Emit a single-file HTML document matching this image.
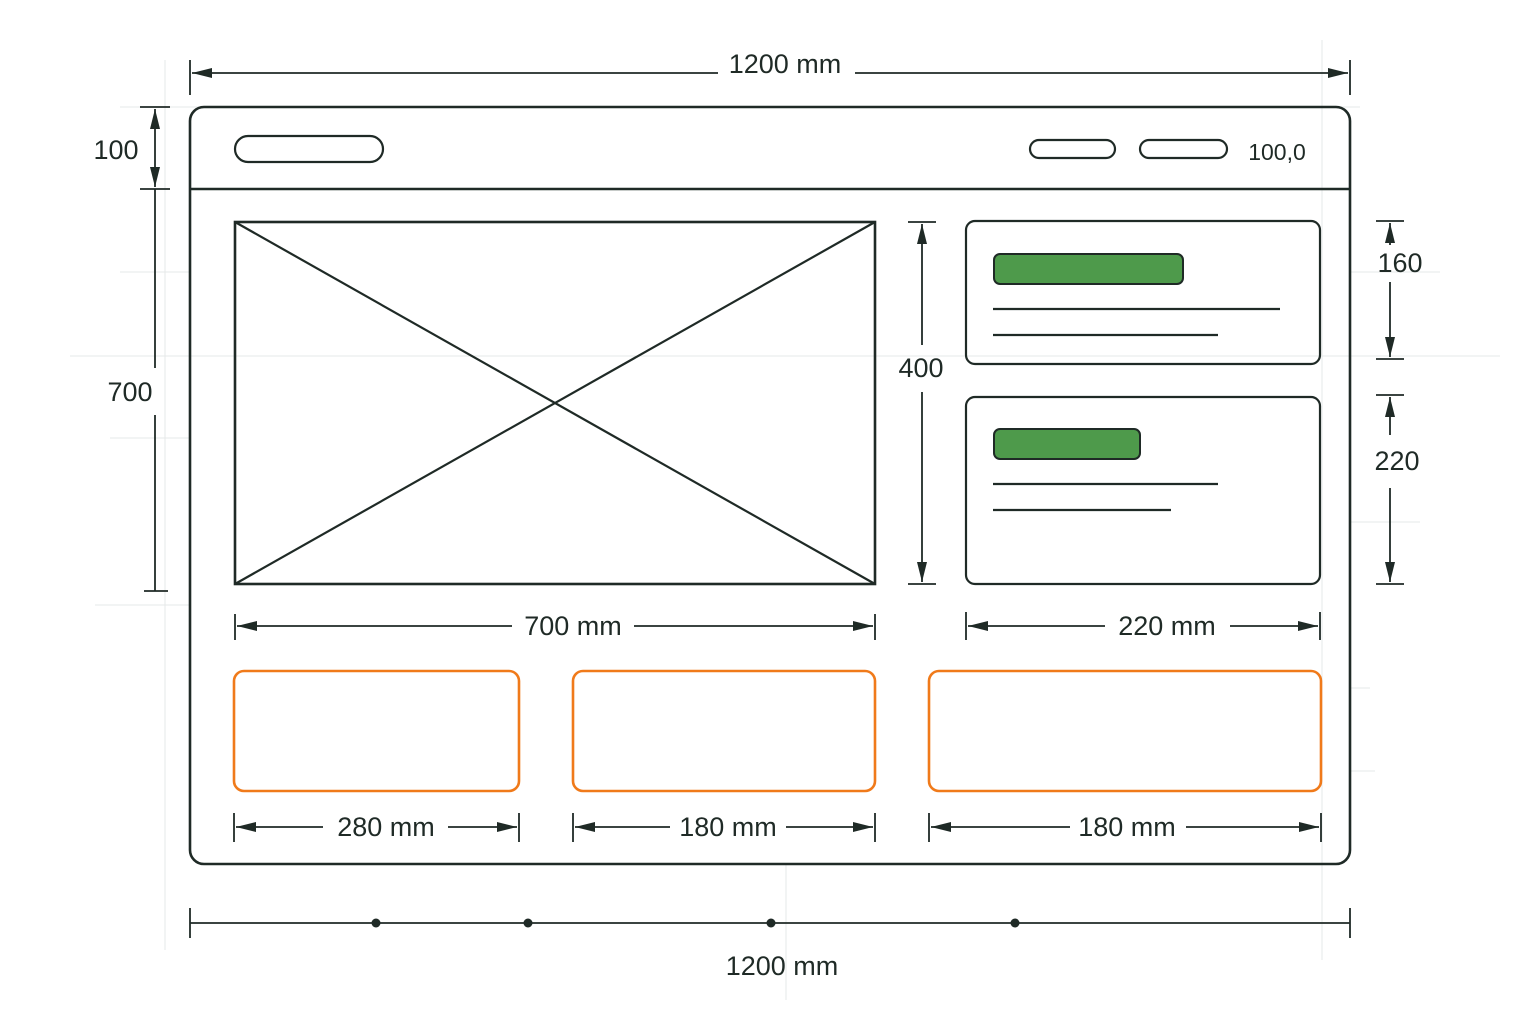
<!DOCTYPE html>
<html><head><meta charset="utf-8"><style>
html,body{margin:0;padding:0;background:#fff;}
svg{display:block;}
text{font-family:"Liberation Sans",sans-serif;fill:#1f2a26;}
</style></head><body>
<svg width="1536" height="1024" viewBox="0 0 1536 1024" xmlns="http://www.w3.org/2000/svg">
<defs>
<marker id="a" viewBox="0 0 20 10" refX="20" refY="5" markerWidth="20" markerHeight="10" markerUnits="userSpaceOnUse" orient="auto-start-reverse">
<path d="M0,0 L20,5 L0,10 Z" fill="#1f2a26"/></marker>
</defs>
<g stroke="#e6e9e8" stroke-width="1">
<line x1="165" y1="60" x2="165" y2="950"/><line x1="1322" y1="40" x2="1322" y2="960"/>
<line x1="120" y1="107" x2="1360" y2="107"/><line x1="70" y1="356" x2="1500" y2="356"/>
<line x1="120" y1="272" x2="190" y2="272"/><line x1="110" y1="438" x2="190" y2="438"/>
<line x1="1350" y1="272" x2="1440" y2="272"/><line x1="1350" y1="522" x2="1420" y2="522"/>
<line x1="786" y1="864" x2="786" y2="1000"/><line x1="1350" y1="688" x2="1370" y2="688"/>
<line x1="1350" y1="771" x2="1375" y2="771"/><line x1="95" y1="605" x2="190" y2="605"/>
</g>
<g fill="none" stroke="#1f2a26" stroke-width="2.2">
<rect x="190" y="107" width="1160" height="757" rx="14" stroke-width="2.6"/>
<line x1="190" y1="189" x2="1350" y2="189" stroke-width="2.6"/>
<rect x="235" y="136" width="148" height="26" rx="13"/>
<rect x="1030" y="140" width="85" height="18" rx="9"/>
<rect x="1140" y="140" width="87" height="18" rx="9"/>
<rect x="235" y="222" width="640" height="362" stroke-width="2.6"/>
<line x1="235" y1="222" x2="875" y2="584"/><line x1="875" y1="222" x2="235" y2="584"/>
<rect x="966" y="221" width="354" height="143" rx="9"/>
<rect x="966" y="397" width="354" height="187" rx="9"/>
<line x1="993" y1="309" x2="1280" y2="309"/><line x1="993" y1="335" x2="1218" y2="335"/>
<line x1="993" y1="484" x2="1218" y2="484"/><line x1="993" y1="510" x2="1171" y2="510"/>
</g>
<rect x="994" y="254" width="189" height="30" rx="6" fill="#4e9a4b" stroke="#1f2a26" stroke-width="2"/>
<rect x="994" y="429" width="146" height="30" rx="6" fill="#4e9a4b" stroke="#1f2a26" stroke-width="2"/>
<g fill="none" stroke="#f07a1a" stroke-width="2.6">
<rect x="234" y="671" width="285" height="120" rx="10"/>
<rect x="573" y="671" width="302" height="120" rx="10"/>
<rect x="929" y="671" width="392" height="120" rx="10"/>
</g>
<g stroke="#1f2a26" stroke-width="1.8" fill="none">
<!-- top -->
<line x1="190" y1="60" x2="190" y2="95"/><line x1="1350" y1="60" x2="1350" y2="95"/>
<line x1="192" y1="73" x2="718" y2="73" marker-start="url(#a)"/><line x1="855" y1="73" x2="1348" y2="73" marker-end="url(#a)"/>
<!-- left 100 -->
<line x1="140" y1="107" x2="170" y2="107"/><line x1="140" y1="189" x2="170" y2="189"/>
<line x1="155" y1="109" x2="155" y2="187" marker-start="url(#a)" marker-end="url(#a)"/>
<!-- 700 -->
<line x1="144" y1="591" x2="168" y2="591"/>
<line x1="155" y1="189" x2="155" y2="368"/><line x1="155" y1="415" x2="155" y2="591"/>
<!-- 400 -->
<line x1="908" y1="222" x2="936" y2="222"/><line x1="908" y1="584" x2="936" y2="584"/>
<line x1="922" y1="224" x2="922" y2="345" marker-start="url(#a)"/><line x1="922" y1="392" x2="922" y2="582" marker-end="url(#a)"/>
<!-- 160 -->
<line x1="1376" y1="221" x2="1404" y2="221"/><line x1="1376" y1="359" x2="1404" y2="359"/>
<line x1="1390" y1="223" x2="1390" y2="245" marker-start="url(#a)"/><line x1="1390" y1="282" x2="1390" y2="357" marker-end="url(#a)"/>
<!-- 220 -->
<line x1="1376" y1="395" x2="1404" y2="395"/><line x1="1376" y1="584" x2="1404" y2="584"/>
<line x1="1390" y1="397" x2="1390" y2="435" marker-start="url(#a)"/><line x1="1390" y1="488" x2="1390" y2="582" marker-end="url(#a)"/>
<!-- 700mm -->
<line x1="235" y1="614" x2="235" y2="640"/><line x1="875" y1="614" x2="875" y2="640"/>
<line x1="237" y1="626" x2="512" y2="626" marker-start="url(#a)"/><line x1="634" y1="626" x2="873" y2="626" marker-end="url(#a)"/>
<!-- 220mm -->
<line x1="966" y1="612" x2="966" y2="640"/><line x1="1320" y1="612" x2="1320" y2="640"/>
<line x1="968" y1="626" x2="1105" y2="626" marker-start="url(#a)"/><line x1="1230" y1="626" x2="1318" y2="626" marker-end="url(#a)"/>
<!-- bottom dims -->
<line x1="234" y1="813" x2="234" y2="842"/><line x1="519" y1="813" x2="519" y2="842"/>
<line x1="236" y1="827" x2="323" y2="827" marker-start="url(#a)"/><line x1="448" y1="827" x2="517" y2="827" marker-end="url(#a)"/>
<line x1="573" y1="813" x2="573" y2="842"/><line x1="875" y1="813" x2="875" y2="842"/>
<line x1="575" y1="827" x2="670" y2="827" marker-start="url(#a)"/><line x1="786" y1="827" x2="873" y2="827" marker-end="url(#a)"/>
<line x1="929" y1="813" x2="929" y2="842"/><line x1="1321" y1="813" x2="1321" y2="842"/>
<line x1="931" y1="827" x2="1070" y2="827" marker-start="url(#a)"/><line x1="1186" y1="827" x2="1319" y2="827" marker-end="url(#a)"/>
<!-- bottom scale -->
<line x1="190" y1="908" x2="190" y2="938"/><line x1="1350" y1="908" x2="1350" y2="938"/>
<line x1="190" y1="923" x2="1350" y2="923"/>
</g>
<g fill="#1f2a26"><circle cx="376" cy="923" r="4.5"/><circle cx="528" cy="923" r="4.5"/><circle cx="771" cy="923" r="4.5"/><circle cx="1015" cy="923" r="4.5"/></g>
<g font-size="27" text-anchor="middle" dominant-baseline="central">
<text x="785" y="64">1200 mm</text>
<text x="116" y="150">100</text>
<text x="130" y="392">700</text>
<text x="921" y="368">400</text>
<text x="1400" y="263">160</text>
<text x="1397" y="461">220</text>
<text x="573" y="626">700 mm</text>
<text x="1167" y="626">220 mm</text>
<text x="386" y="827">280 mm</text>
<text x="728" y="827">180 mm</text>
<text x="1127" y="827">180 mm</text>
<text x="782" y="966">1200 mm</text>
<text x="1277" y="152" font-size="23">100,0</text>
</g>
</svg>
</body></html>
